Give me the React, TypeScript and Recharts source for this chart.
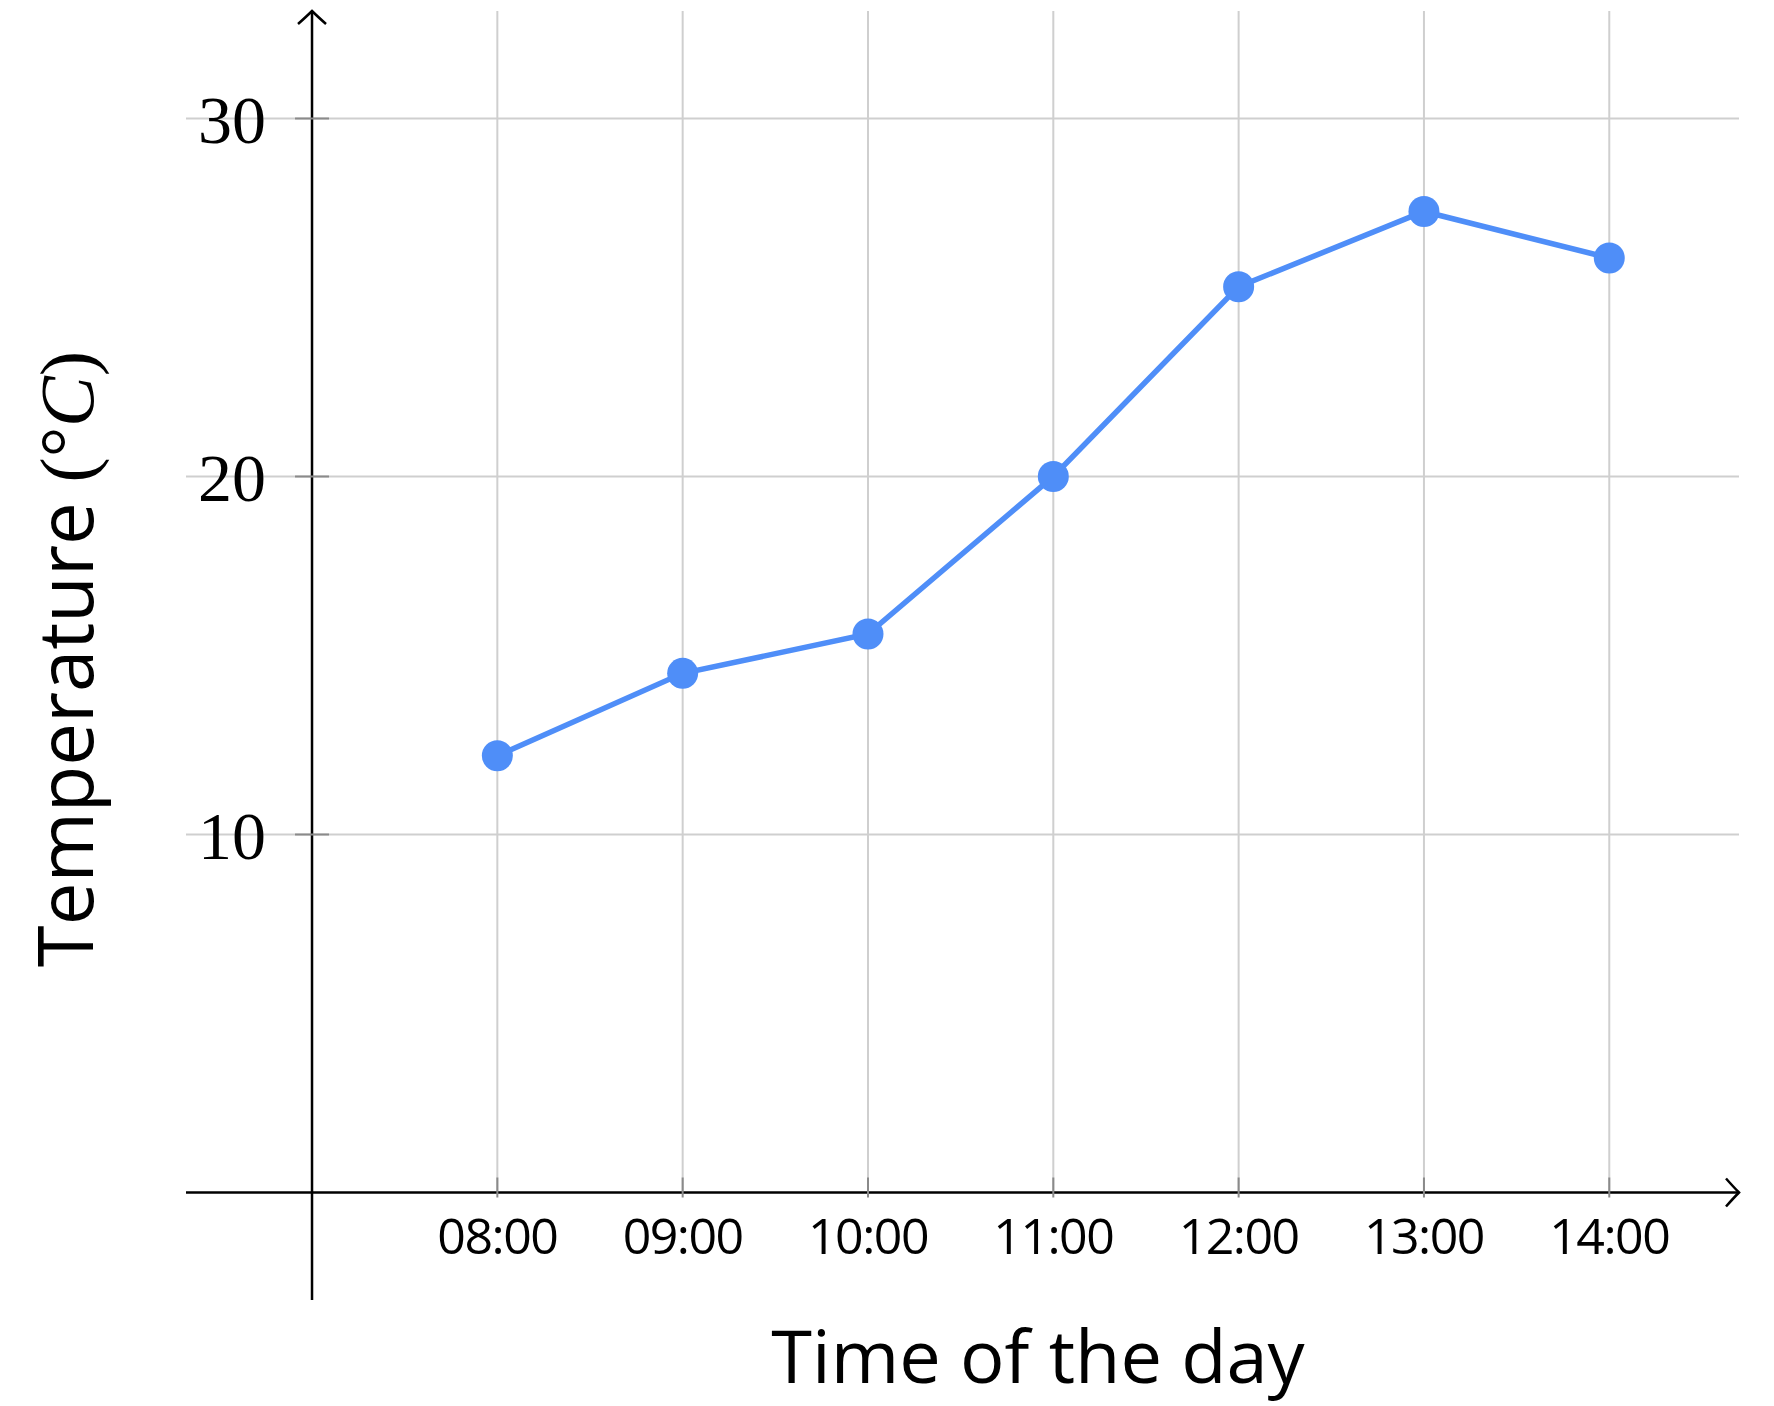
import {
  Line,
  LineChart,
  ReferenceDot,
  ReferenceLine,
  XAxis,
  YAxis,
} from "recharts";

const hours = [8, 9, 10, 11, 12, 13, 14];
const timeLabels = ["08:00", "09:00", "10:00", "11:00", "12:00", "13:00", "14:00"];
const temperatures = [12.2, 14.5, 15.6, 20.0, 25.3, 27.4, 26.1];
const tempTicks = [10, 20, 30];

const data = hours.map((hour, i) => ({ hour, temp: temperatures[i] }));

// axis frame (pgfplots "axis lines = middle" look)
const X_MIN = 6.32;
const X_MAX = 14.7;
const Y_MAX = 33;
const Y_AXIS_BOTTOM = -3;
const Y_AXIS_AT = 7;

const BLUE = "#4f8ef8";
const GRID = "#cfcfcf";
const TICK = "#8a8a8a";

function labelFor(h: number) {
  const i = hours.indexOf(h);
  return i >= 0 ? timeLabels[i] : "";
}

function VerticalArrowAxis(props: any) {
  const { x1, y1, x2, y2 } = props;
  const top = Math.min(y1, y2);
  const bottom = Math.max(y1, y2);
  return (
    <g stroke="#000" strokeWidth={2.5} fill="none">
      <line x1={x1} y1={bottom} x2={x2} y2={top} />
      <path d={`M${x1 - 14} ${top + 13} Q${x1 - 5} ${top + 5} ${x1} ${top} Q${x1 + 5} ${top + 5} ${x1 + 14} ${top + 13}`} />
    </g>
  );
}

function HorizontalArrowAxis(props: any) {
  const { x1, y1, x2, y2 } = props;
  const left = Math.min(x1, x2);
  const right = Math.max(x1, x2);
  return (
    <g stroke="#000" strokeWidth={2.5} fill="none">
      <line x1={left} y1={y1} x2={right} y2={y2} />
      <path d={`M${right - 13} ${y1 - 14} Q${right - 5} ${y1 - 5} ${right} ${y1} Q${right - 5} ${y1 + 5} ${right - 13} ${y1 + 14}`} />
    </g>
  );
}

export default function App() {
  return (
    <div style={{ position: "absolute", left: 0, top: 0, background: "#fff" }}>
      <LineChart
        width={1774}
        height={1406}
        data={data}
        margin={{ top: 11, right: 35, left: 186, bottom: 153.5 }}
      >
        <XAxis
          dataKey="hour"
          type="number"
          domain={[X_MIN, X_MAX]}
          ticks={hours}
          tickFormatter={labelFor}
          axisLine={false}
          tickLine={false}
          tickSize={0}
          tickMargin={26}
          height={60}
          interval={0}
          tick={{ fill: "#000", fontSize: 50, fontFamily: "Open Sans", letterSpacing: -1.5 }}
        />
        <YAxis
          type="number"
          domain={[0, Y_MAX]}
          ticks={tempTicks}
          mirror
          axisLine={false}
          tickLine={false}
          tickSize={0}
          tickMargin={12}
          tick={{ fill: "#000", fontSize: 68, fontFamily: "Liberation Serif" }}
        />
        {/* grid: only at the tick values, no frame */}
        {hours.map((h) => (
          <ReferenceLine key={`gx-${h}`} x={h} stroke={GRID} strokeWidth={2} />
        ))}
        {tempTicks.map((t) => (
          <ReferenceLine key={`gy-${t}`} y={t} stroke={GRID} strokeWidth={2} />
        ))}
        <ReferenceLine
          segment={[
            { x: Y_AXIS_AT, y: Y_AXIS_BOTTOM },
            { x: Y_AXIS_AT, y: Y_MAX },
          ]}
          ifOverflow="visible"
          shape={VerticalArrowAxis}
        />
        <ReferenceLine
          segment={[
            { x: X_MIN, y: 0 },
            { x: X_MAX, y: 0 },
          ]}
          ifOverflow="visible"
          shape={HorizontalArrowAxis}
        />
        {hours.map((h) => (
          <ReferenceDot
            key={`xt-${h}`}
            x={h}
            y={0}
            ifOverflow="visible"
            shape={(p: any) => (
              <line x1={p.cx} y1={p.cy - 15} x2={p.cx} y2={p.cy + 5} stroke={TICK} strokeWidth={2} />
            )}
          />
        ))}
        {tempTicks.map((t) => (
          <ReferenceDot
            key={`yt-${t}`}
            x={Y_AXIS_AT}
            y={t}
            ifOverflow="visible"
            shape={(p: any) => (
              <line x1={p.cx - 17} y1={p.cy} x2={p.cx + 17} y2={p.cy} stroke={TICK} strokeWidth={2} />
            )}
          />
        ))}
        <Line
          type="linear"
          dataKey="temp"
          stroke={BLUE}
          strokeWidth={5.5}
          dot={{ r: 15.5, fill: BLUE, stroke: "none" }}
          activeDot={false}
          isAnimationActive={false}
        />
        <text
          x={1038}
          y={1383}
          textAnchor="middle"
          fontSize={74}
          fontFamily="Open Sans"
          fontWeight={500}
          fill="#000"
        >
          Time of the day
        </text>
        <text
          x={93}
          y={659}
          transform="rotate(-90, 93, 659)"
          textAnchor="middle"
          fontSize={76}
          fontFamily="Open Sans"
          fontWeight={500}
          fill="#000"
        >
          Temperature{" "}
          <tspan fontFamily="Liberation Serif" fontWeight={400}>(°</tspan>
          <tspan fontFamily="Liberation Serif" fontWeight={400} fontStyle="italic">C</tspan>
          <tspan fontFamily="Liberation Serif" fontWeight={400}>)</tspan>
        </text>
      </LineChart>
    </div>
  );
}
